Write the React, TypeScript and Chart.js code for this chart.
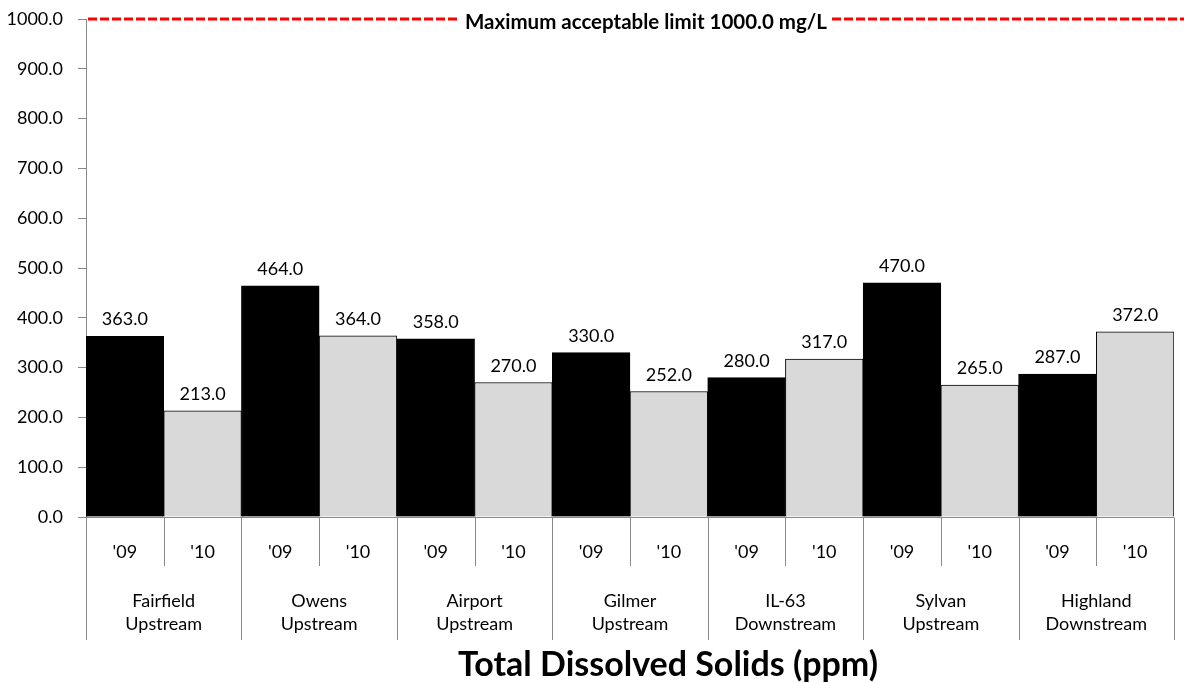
import React, { useEffect, useRef } from "react";
import { Chart, registerables } from "chart.js";

Chart.register(...registerables);

const sites: string[][] = [
  ["Fairfield", "Upstream"],
  ["Owens", "Upstream"],
  ["Airport", "Upstream"],
  ["Gilmer", "Upstream"],
  ["IL-63", "Downstream"],
  ["Sylvan", "Upstream"],
  ["Highland", "Downstream"],
];
const years = ["'09", "'10"];
const values09 = [363, 464, 358, 330, 280, 470, 287];
const values10 = [213, 364, 270, 252, 317, 265, 372];
const yMin = 0;
const yMax = 1000;
const yStep = 100;
const limitValue = 1000;
const limitLabel = "Maximum acceptable limit 1000.0 mg/L";
const titleText = "Total Dissolved Solids (ppm)";

const FONT = "Lato, 'Open Sans', sans-serif";
const AXIS_COLOR = "#8a8a8a";

export default function App() {
  const ref = useRef<HTMLCanvasElement | null>(null);

  useEffect(() => {
    if (!ref.current) return;
    const labels = sites.flatMap((s) => years.map((y) => `${s.join(" ")} ${y}`));
    const data = sites.flatMap((_, i) => [values09[i], values10[i]]);
    const colors = sites.flatMap(() => ["#000000", "#D9D9D9"]);

    const overlay = {
      id: "overlay",
      afterDatasetsDraw(chart: any) {
        const ctx = chart.ctx;
        const area = chart.chartArea;
        const xs = chart.scales.x;
        const ys = chart.scales.y;
        const n = labels.length;
        const w = (area.right - area.left) / n;
        ctx.save();
        // data labels
        ctx.fillStyle = "#000";
        ctx.font = `18px ${FONT}`;
        ctx.textAlign = "center";
        ctx.textBaseline = "alphabetic";
        data.forEach((v, i) => {
          const cx = xs.getPixelForValue(i);
          const top = ys.getPixelForValue(v);
          ctx.fillText(v.toFixed(1), cx, top - 11);
        });
        // x-axis line
        ctx.strokeStyle = AXIS_COLOR;
        ctx.lineWidth = 1;
        ctx.beginPath();
        const by = Math.round(area.bottom) + 0.5;
        ctx.moveTo(area.left, by);
        ctx.lineTo(area.right, by);
        ctx.stroke();
        // separators
        for (let i = 0; i <= n; i++) {
          const bx = Math.round(xs.getPixelForValue(i) - w / 2) + 0.5;
          const long = i % years.length === 0;
          ctx.beginPath();
          ctx.moveTo(bx, by);
          ctx.lineTo(bx, long ? 640 : 566);
          ctx.stroke();
        }
        // year labels
        ctx.fillStyle = "#000";
        ctx.font = `18px ${FONT}`;
        labels.forEach((_, i) => {
          ctx.fillText(years[i % years.length], xs.getPixelForValue(i), 558);
        });
        // site labels
        sites.forEach((s, k) => {
          const cx = (xs.getPixelForValue(k * 2) + xs.getPixelForValue(k * 2 + 1)) / 2;
          ctx.fillText(s[0], cx, 607);
          ctx.fillText(s[1], cx, 630);
        });
        // limit line
        const ly = ys.getPixelForValue(limitValue);
        ctx.strokeStyle = "#FF0000";
        ctx.lineWidth = 3;
        ctx.setLineDash([9, 3]);
        ctx.beginPath();
        ctx.moveTo(area.left + 2, ly);
        ctx.lineTo(chart.width, ly);
        ctx.stroke();
        ctx.setLineDash([]);
        ctx.font = `bold 20.5px ${FONT}`;
        const tw = ctx.measureText(limitLabel).width;
        const lx = 646;
        ctx.fillStyle = "#fff";
        ctx.fillRect(lx - tw / 2 - 5, ly - 10, tw + 10, 24);
        ctx.fillStyle = "#000";
        ctx.textBaseline = "middle";
        ctx.fillText(limitLabel, lx, ly + 3);
        // title
        ctx.textBaseline = "alphabetic";
        ctx.font = `bold 34px ${FONT}`;
        ctx.fillText(titleText, 668, 676);
        ctx.restore();
      },
    };

    const chart = new Chart(ref.current, {
      type: "bar",
      data: {
        labels,
        datasets: [
          {
            data,
            backgroundColor: colors,
            borderColor: "#000000",
            borderWidth: 1,
            categoryPercentage: 1,
            barPercentage: 1,
          },
        ],
      },
      options: {
        animation: false,
        responsive: false,
        layout: { padding: { top: 19, right: 10, bottom: 166, left: 0 } },
        plugins: { legend: { display: false }, tooltip: { enabled: false }, title: { display: false } },
        scales: {
          x: { display: false },
          y: {
            min: yMin,
            max: yMax,
            afterFit(scale: any) {
              scale.width = 86;
              scale.paddingTop = 0;
              scale.paddingBottom = 0;
            },
            ticks: {
              stepSize: yStep,
              padding: 15,
              color: "#000",
              font: { family: FONT, size: 18 },
              callback: (v: any) => Number(v).toFixed(1),
            },
            grid: { drawOnChartArea: false, drawTicks: true, tickLength: 8, color: AXIS_COLOR },
            border: { color: AXIS_COLOR, width: 1 },
          },
        },
      },
      plugins: [overlay],
    });
    return () => chart.destroy();
  }, []);

  return (
    <div style={{ position: "fixed", left: 0, top: 0, width: 1184, height: 683, background: "#fff" }}>
      <canvas ref={ref} width={1184} height={683} style={{ width: 1184, height: 683 }} />
    </div>
  );
}
